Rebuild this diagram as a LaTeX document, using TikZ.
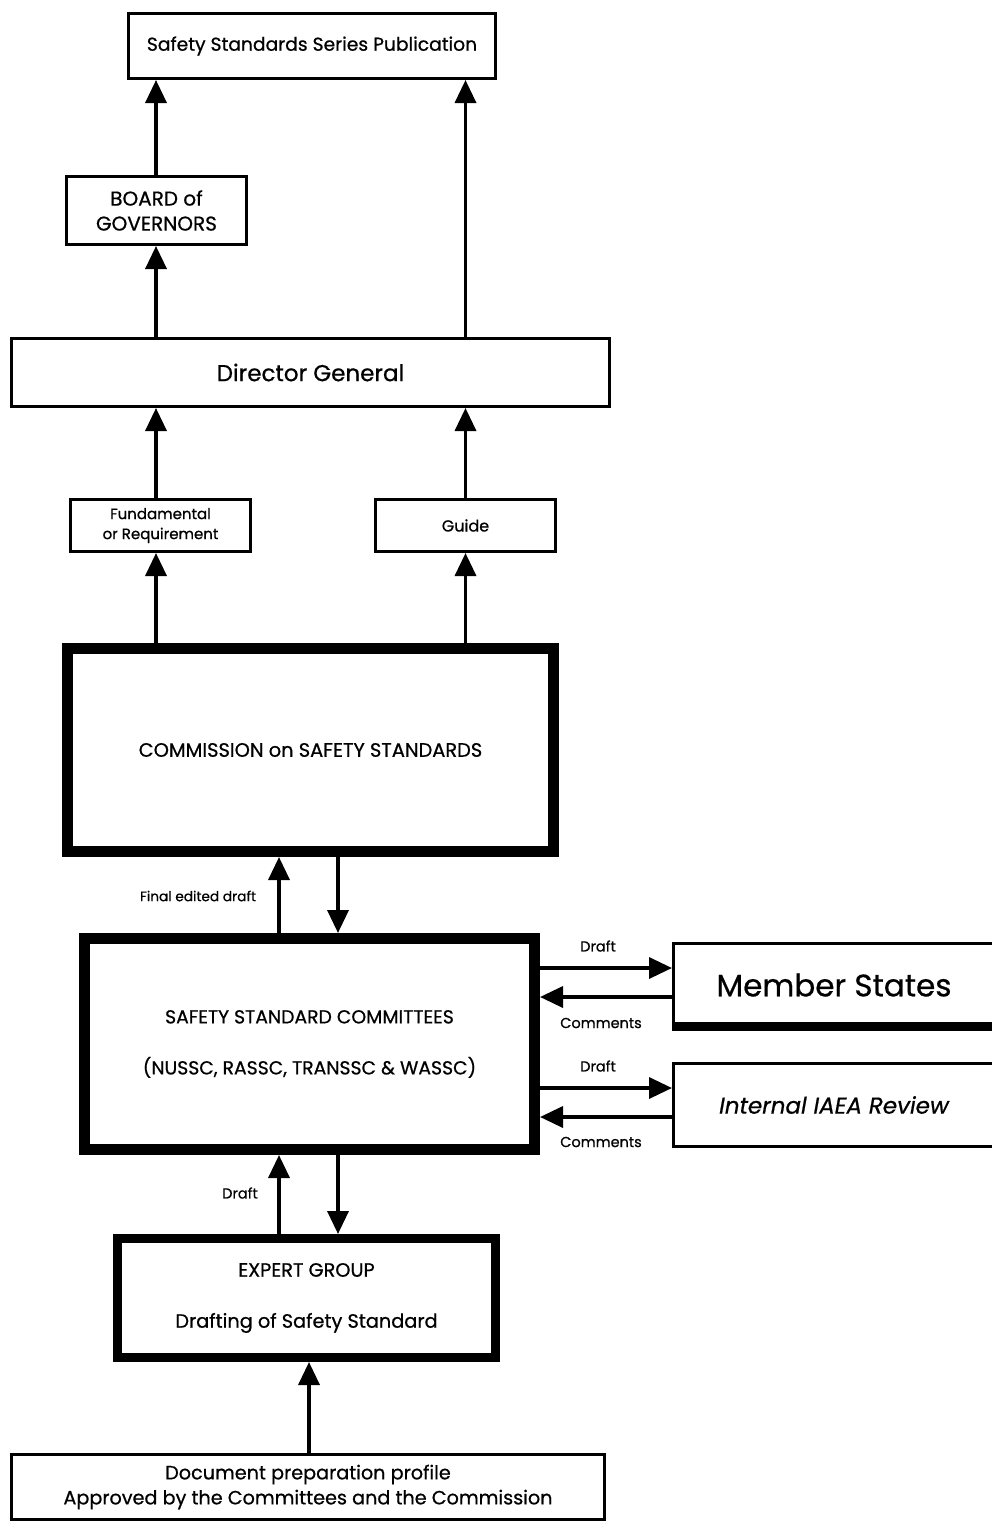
\documentclass[tikz,border=0pt]{standalone}
\usepackage{fontspec}
\setmainfont{Poppins}[FakeBold=0.7]
\usetikzlibrary{arrows.meta}
\tikzset{
  box/.style={draw, line width=3, rectangle, inner sep=0, align=center},
  heavybox/.style={draw, line width=11, rectangle, inner sep=0, align=center},
  arr/.style={line width=3.5, -{Triangle[width=21pt,length=23pt]}},
  lbl/.style={inner sep=0, font=\fontsize{14.5}{17}\selectfont}
}
\begin{document}
\begin{tikzpicture}[x=1pt,y=-1pt]
\useasboundingbox (0,0) rectangle (991,1523);
\fill[white] (0,0) rectangle (991,1523);

% boxes
\node[box, minimum width=367, minimum height=65, font=\fontsize{18.7}{22}\selectfont] (pub) at (312,46) {Safety Standards Series Publication};
\node[box, minimum width=180, minimum height=68, font=\fontsize{20}{25}\selectfont] (board) at (156.5,210.5) {BOARD of\\GOVERNORS};
\node[box, minimum width=598, minimum height=68, font=\fontsize{23}{27}\selectfont] (dg) at (310.5,372.5) {Director General};
\node[box, minimum width=180, minimum height=52, font=\fontsize{15}{20}\selectfont] (fund) at (160.5,525.5) {Fundamental\\or Requirement};
\node[box, minimum width=180, minimum height=52, font=\fontsize{16}{19}\selectfont] (guide) at (465.5,525.5) {Guide};
\node[heavybox, minimum width=486, minimum height=203, font=\fontsize{19.4}{23}\selectfont] (comm) at (310.5,750) {COMMISSION on SAFETY STANDARDS};
\node[heavybox, minimum width=450, minimum height=211, font=\fontsize{18.8}{51}\selectfont] (cttee) at (309.5,1044) {SAFETY STANDARD COMMITTEES\\(NUSSC, RASSC, TRANSSC \& WASSC)};
\node[box, minimum width=321, minimum height=83, font=\fontsize{31}{35}\selectfont] (ms) at (834,985) {Member States};
\draw[line width=9] ([yshift=2]ms.south west) -- ([yshift=2]ms.south east);
\node[box, minimum width=321, minimum height=83, font=\fontsize{23}{27}\selectfont\itshape] (iaea) at (834,1105) {Internal IAEA Review};
\node[heavybox, line width=9, minimum width=378, minimum height=119, font=\fontsize{19.3}{51}\selectfont] (expert) at (306.5,1298) {EXPERT GROUP\\Drafting of Safety Standard};
\node[box, minimum width=593, minimum height=65, font=\fontsize{19.2}{25}\selectfont] (doc) at (308,1487) {Document preparation profile\\Approved by the Committees and the Commission};

% helper columns
\coordinate (colL) at (156,0);
\coordinate (colR) at (465.5,0);
\coordinate (upX) at (279,0);
\coordinate (dnX) at (338,0);
\coordinate (docX) at (309,0);

% upper connectors
\draw[arr] (colL |- board.north) -- (colL |- pub.south);
\draw[arr] (colR |- dg.north) -- (colR |- pub.south);
\draw[arr] (colL |- dg.north) -- (colL |- board.south);
\draw[arr] (colL |- fund.north) -- (colL |- dg.south);
\draw[arr] (colR |- guide.north) -- (colR |- dg.south);
\draw[arr] (colL |- comm.north) -- (colL |- fund.south);
\draw[arr] (colR |- comm.north) -- (colR |- guide.south);

% commission <-> committees
\draw[arr] (upX |- cttee.north) -- (upX |- comm.south);
\draw[arr] (dnX |- comm.south) -- (dnX |- cttee.north);
\node[lbl, font=\fontsize{13.7}{16}\selectfont] (lfinal) at (198,896) {Final edited draft};

% committees <-> member states / internal review
\coordinate (y1) at (0,968);
\coordinate (y2) at (0,997);
\coordinate (y3) at (0,1088);
\coordinate (y4) at (0,1117);
\draw[arr] (cttee.east |- y1) -- (ms.west |- y1);
\draw[arr] (ms.west |- y2) -- (cttee.east |- y2);
\draw[arr] (cttee.east |- y3) -- (iaea.west |- y3);
\draw[arr] (iaea.west |- y4) -- (cttee.east |- y4);
\node[lbl] (ld1) at (598,946) {Draft};
\node[lbl] (lc1) at (601,1023) {Comments};
\node[lbl] (ld2) at (598,1066) {Draft};
\node[lbl] (lc2) at (601,1142) {Comments};

% committees <-> expert group
\draw[arr] (upX |- expert.north) -- (upX |- cttee.south);
\draw[arr] (dnX |- cttee.south) -- (dnX |- expert.north);
\node[lbl] (ld3) at (240,1193) {Draft};

% doc -> expert
\draw[arr] (docX |- doc.north) -- (docX |- expert.south);
\end{tikzpicture}
\end{document}
